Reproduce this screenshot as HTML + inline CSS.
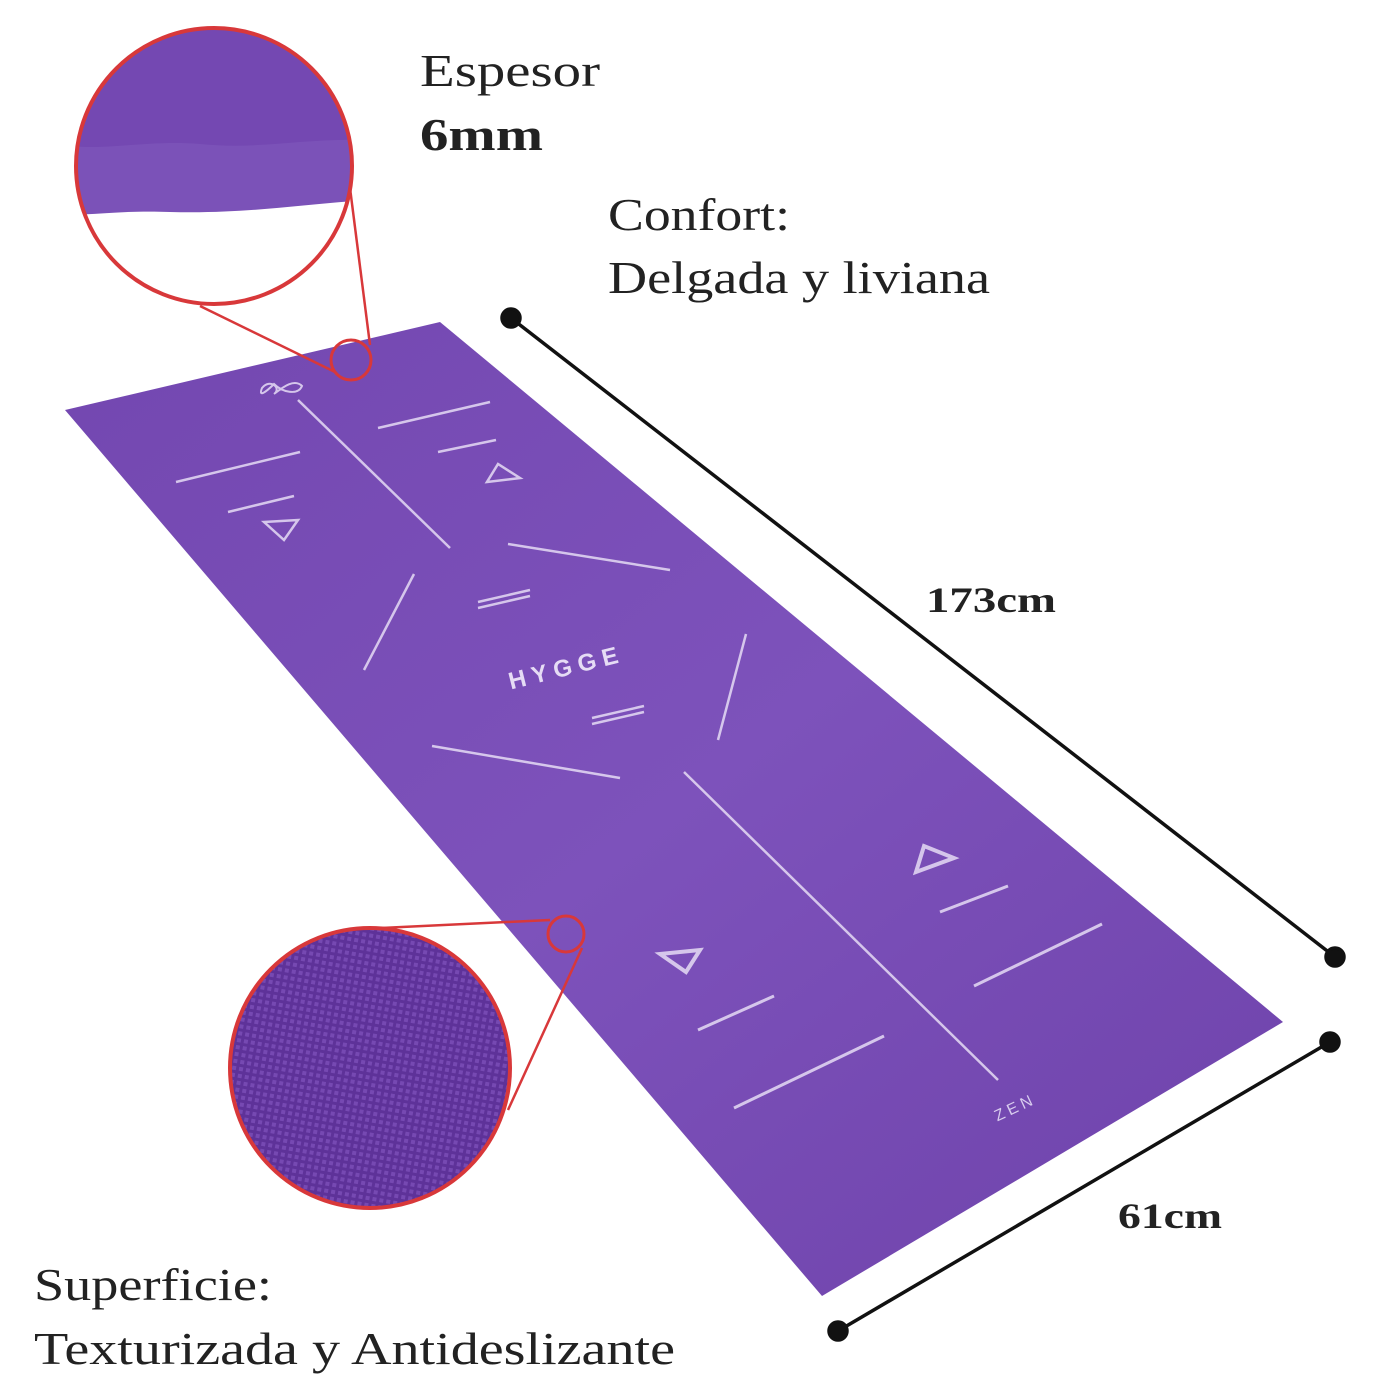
<!DOCTYPE html><html><head><style>body{margin:0;background:#fff}svg{display:block}</style></head><body>
<svg width="1400" height="1400" viewBox="0 0 1400 1400" xmlns="http://www.w3.org/2000/svg">
<defs>
<linearGradient id="g" x1="0" y1="0" x2="1" y2="1"><stop offset="0" stop-color="#7347b0"/><stop offset="0.5" stop-color="#7d52bb"/><stop offset="1" stop-color="#6e42aa"/></linearGradient>
<pattern id="tx" width="7" height="7" patternUnits="userSpaceOnUse" patternTransform="rotate(10)"><rect width="7" height="7" fill="#5e3299"/><rect x="1" y="1" width="4" height="4" fill="#7649b2"/></pattern>
<clipPath id="c1"><circle cx="214" cy="166" r="137"/></clipPath>
</defs>
<polygon points="65,410 440,322 1283,1022 822,1296" fill="url(#g)"/>
<g stroke="#e6dcf5" stroke-width="2.5" fill="none" opacity="0.85">
<line x1="298" y1="400" x2="450" y2="548"/>
<line x1="378" y1="428" x2="490" y2="402"/>
<line x1="438" y1="452" x2="496" y2="440"/>
<polygon points="487,482 520,478 498,464"/>
<line x1="176" y1="482" x2="300" y2="452"/>
<line x1="228" y1="512" x2="294" y2="496"/>
<polygon points="264,522 298,520 284,540"/>
<line x1="508" y1="544" x2="670" y2="570"/>
<line x1="414" y1="574" x2="364" y2="670"/>
<line x1="746" y1="634" x2="718" y2="740"/>
<line x1="432" y1="746" x2="620" y2="778"/>
<line x1="478" y1="602" x2="530" y2="590"/><line x1="478" y1="608" x2="530" y2="596"/>
<line x1="592" y1="718" x2="644" y2="706"/><line x1="592" y1="724" x2="644" y2="712"/>
<line x1="684" y1="772" x2="998" y2="1080"/>
<polygon points="916,872 954,858 924,846" stroke-width="4"/>
<line x1="940" y1="912" x2="1008" y2="886" stroke-width="3"/>
<line x1="974" y1="986" x2="1102" y2="924" stroke-width="3"/>
<polygon points="660,954 700,950 686,972" stroke-width="4"/>
<line x1="698" y1="1030" x2="774" y2="996" stroke-width="3"/>
<line x1="734" y1="1108" x2="884" y2="1036" stroke-width="3"/>
<path d="M262,388 c8,-10 20,0 12,6 c8,-6 20,-16 28,-8 c-4,10 -20,6 -28,-2 c-8,8 -16,14 -12,4z" stroke-width="2"/>
</g>
<text x="505" y="678" transform="rotate(-14 555 660)" fill="#e6dcf5" font-family="Liberation Sans, sans-serif" font-weight="bold" font-size="24" textLength="112">HYGGE</text>
<text x="990" y="1112" transform="rotate(-25 1015 1100)" fill="#d8ccee" font-family="Liberation Sans, sans-serif" font-size="16" letter-spacing="4">ZEN</text>
<g clip-path="url(#c1)">
<rect x="70" y="20" width="300" height="300" fill="#fff"/>
<path d="M70,20 H370 V200 C300,204 250,214 170,212 C120,210 90,216 70,214Z" fill="#7b52b8"/>
<path d="M70,20 H370 V140 C300,138 260,150 200,144 C150,140 110,150 70,146Z" fill="#7448b2"/>
</g>
<circle cx="214" cy="166" r="138" fill="none" stroke="#d8383a" stroke-width="4"/>
<circle cx="351" cy="360" r="20" fill="none" stroke="#d8383a" stroke-width="3"/>
<line x1="200" y1="306" x2="335" y2="372" stroke="#d8383a" stroke-width="2.5"/>
<line x1="350" y1="188" x2="370" y2="345" stroke="#d8383a" stroke-width="2.5"/>
<circle cx="370" cy="1068" r="140" fill="url(#tx)" stroke="#d8383a" stroke-width="4"/>
<circle cx="566" cy="934" r="18" fill="none" stroke="#d8383a" stroke-width="3"/>
<line x1="380" y1="928" x2="550" y2="920" stroke="#d8383a" stroke-width="2.5"/>
<line x1="508" y1="1110" x2="582" y2="948" stroke="#d8383a" stroke-width="2.5"/>
<g stroke="#111" stroke-width="3.5" fill="#111">
<line x1="511" y1="318" x2="1335" y2="957"/>
<circle cx="511" cy="318" r="9"/><circle cx="1335" cy="957" r="9"/>
<line x1="838" y1="1331" x2="1330" y2="1042"/>
<circle cx="838" cy="1331" r="9"/><circle cx="1330" cy="1042" r="9"/>
</g>
<g font-family="Liberation Serif, serif" fill="#222" lengthAdjust="spacingAndGlyphs">
<text x="420" y="86" font-size="46" textLength="180" lengthAdjust="spacingAndGlyphs">Espesor</text>
<text x="420" y="150" font-size="46" font-weight="bold" textLength="123" lengthAdjust="spacingAndGlyphs">6mm</text>
<text x="608" y="230" font-size="46" textLength="182" lengthAdjust="spacingAndGlyphs">Confort:</text>
<text x="608" y="293" font-size="46" textLength="382" lengthAdjust="spacingAndGlyphs">Delgada y liviana</text>
<text x="926" y="612" font-size="36" font-weight="bold" textLength="130" lengthAdjust="spacingAndGlyphs">173cm</text>
<text x="1118" y="1228" font-size="36" font-weight="bold" textLength="104" lengthAdjust="spacingAndGlyphs">61cm</text>
<text x="34" y="1300" font-size="46" textLength="238" lengthAdjust="spacingAndGlyphs">Superficie:</text>
<text x="34" y="1364" font-size="46" textLength="641" lengthAdjust="spacingAndGlyphs">Texturizada y Antideslizante</text>
</g>
</svg>
</body></html>
